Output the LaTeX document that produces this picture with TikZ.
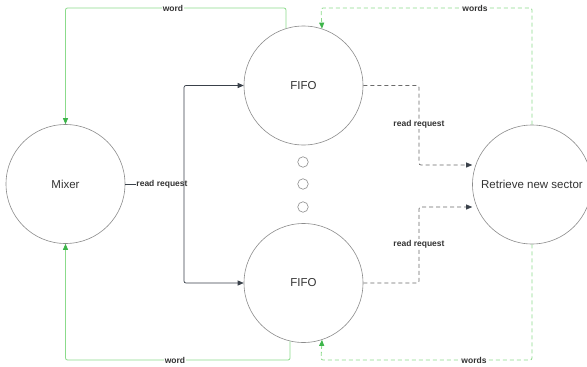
\documentclass[tikz,border=0pt]{standalone}
\usepackage{fontspec}
\setmainfont{Liberation Sans}
\usetikzlibrary{arrows.meta}
\definecolor{circ}{HTML}{8C8C8C}
\definecolor{txt}{HTML}{333333}
\definecolor{lgreen}{HTML}{8BDB8B}
\definecolor{dgreen}{HTML}{3DB54A}
\definecolor{dline}{HTML}{3A414A}
\definecolor{gline}{HTML}{6B6B6B}
\begin{document}
\begin{tikzpicture}[x=1pt,y=-1pt,
  bigc/.style={circle,draw=circ,line width=0.6pt,minimum size=119pt,inner sep=0pt,font=\fontsize{11.5}{13}\selectfont,text=txt},
  dotc/.style={circle,draw=circ,line width=0.6pt,minimum size=10.5pt,inner sep=0pt},
  lbl/.style={fill=white,inner sep=0.6pt,font=\bfseries\fontsize{8.5}{10}\selectfont,text=txt},
  req/.style={draw=dline,line width=0.7pt,rounded corners=2pt},
  reqtip/.style={-{Triangle[length=6pt,width=5pt,color=dline]}},
  dreq/.style={draw=gline,line width=0.7pt,dash pattern=on 4pt off 3pt,rounded corners=2pt,-{Triangle[length=6pt,width=5pt,color=dline]}},
  wline/.style={draw=lgreen,line width=0.8pt,rounded corners=2pt,-{Triangle[length=6pt,width=5pt,color=dgreen]}},
  dwline/.style={draw=lgreen,line width=0.8pt,dash pattern=on 4pt off 3pt,rounded corners=2pt,-{Triangle[length=6pt,width=5pt,color=dgreen]}}]
\useasboundingbox (0,0) rectangle (587,367);
\fill[white] (0,0) rectangle (587,367);

\node[bigc] (mix) at (65.5,184) {Mixer};
\node[bigc] (f1) at (303.5,85.5) {FIFO};
\node[bigc] (f2) at (303.5,283) {FIFO};
\node[bigc] (ret) at (532,184.5) {Retrieve new sector};
\node[dotc] (d1) at (303,162) {};
\node[dotc] (d2) at (303,184) {};
\node[dotc] (d3) at (303,207) {};

% Mixer -> FIFOs
\coordinate (j) at (184,184);
\draw[req] (mix.east) -- (j);
\node[lbl] (rq0) at (162,184) {read request};
\draw[req,reqtip] (j) |- (f1.west);
\draw[req,reqtip] (j) |- (f2.west);

% FIFOs -> Retrieve
\coordinate (k1) at (419,165);
\coordinate (k2) at (419,207);
\draw[dreq] (f1.east) -| (k1) -- (ret.west |- k1);
\draw[dreq] (f2.east) -| (k2) -- (ret.west |- k2);
\node[lbl] (rq1) at (419,124) {read request};
\node[lbl] (rq2) at (419,244) {read request};

% FIFO -> Mixer (words)
\coordinate (t1) at (65.5,8);
\coordinate (b1) at (65.5,360);
\draw[wline] (f1.107) |- (t1) -- (mix.north);
\draw[wline] (f2.257) |- (b1) -- (mix.south);
\node[lbl] (w1) at (173,8) {word};
\node[lbl] (w2) at (175,360) {word};

% Retrieve -> FIFO (words)
\coordinate (t2) at (321,8);
\coordinate (b2) at (321,360);
\draw[dwline] (ret.north) |- (t2) -- (f1.72);
\draw[dwline] (ret.south) |- (b2) -- (f2.288);
\node[lbl] (w3) at (475,8) {words};
\node[lbl] (w4) at (474,360) {words};
\end{tikzpicture}
\end{document}
